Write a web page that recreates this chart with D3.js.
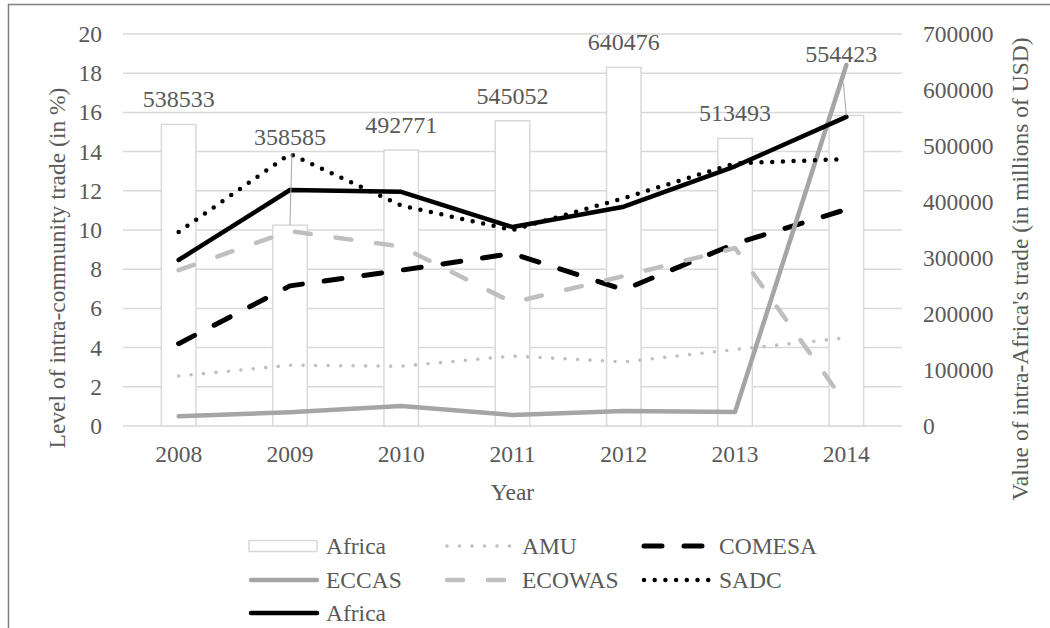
<!DOCTYPE html>
<html>
<head>
<meta charset="utf-8">
<script src="https://cdn.jsdelivr.net/npm/d3@7"></script>
<style>
  html, body { margin: 0; padding: 0; background: #fff; }
  svg { display: block; }
  text { font-family: "Liberation Serif", "Times New Roman", serif; fill: #595959; }
</style>
</head>
<body>
<svg id="chart" width="1050" height="628"></svg>
<script>
// Years on the category axis
const years = ["2008", "2009", "2010", "2011", "2012", "2013", "2014"];
// Value of intra-Africa's trade, millions of USD (bars, right axis)
const africaTrade = [538533, 358585, 492771, 545052, 640476, 513493, 554423];
// Level of intra-community trade, % (lines, left axis)
const amu = [2.55, 3.1, 3.05, 3.57, 3.27, 3.9, 4.5];
const comesa = [4.2, 7.15, 7.95, 8.8, 6.95, 9.3, 11.05];
const eccas = [0.5, 0.7, 1.02, 0.56, 0.77, 0.72, 18.42];
const ecowas = [7.95, 9.95, 9.15, 6.3, 7.65, 9.08, 1.1];
const sadc = [9.9, 13.88, 11.25, 10.0, 11.63, 13.4, 13.62];
const africaShare = [8.47, 12.04, 11.95, 10.15, 11.19, 13.25, 15.77];
// Tick labels
const leftTicks = [0, 2, 4, 6, 8, 10, 12, 14, 16, 18, 20];
const rightTicks = [0, 100000, 200000, 300000, 400000, 500000, 600000, 700000];

const svg = d3.select("#chart");
const plot = { left: 123, right: 902, top: 34, bottom: 426 };
const FS = 23.5;
const SERIF = '"Liberation Serif", "Times New Roman", serif';

const x = d3.scaleBand().domain(years).range([plot.left, plot.right]).paddingInner(0.69).paddingOuter(0.345);
const xc = d => x(d) + x.bandwidth() / 2;
const yL = d3.scaleLinear().domain([0, 20]).range([plot.bottom, plot.top]);
const yR = d3.scaleLinear().domain([0, 700000]).range([plot.bottom, plot.top]);

// outer frame (top and left edges)
svg.append("path")
  .attr("d", "M8.5,628 L8.5,4.5 L1050,4.5")
  .attr("fill", "none").attr("stroke", "#808080").attr("stroke-width", 1.5);

// horizontal gridlines
svg.append("g").selectAll("line").data(leftTicks).join("line")
  .attr("x1", plot.left).attr("x2", plot.right)
  .attr("y1", d => yL(d)).attr("y2", d => yL(d))
  .attr("stroke", "#d9d9d9").attr("stroke-width", 1.5);

function styleAxis(g) {
  g.attr("font-family", SERIF).attr("font-size", FS);
  g.select(".domain").remove();
  g.selectAll("text").attr("fill", "#595959").style("font-family", SERIF).style("font-size", FS + "px");
}

// left axis
svg.append("g").attr("transform", `translate(${plot.left - 21},0)`)
  .call(d3.axisLeft(yL).tickValues(leftTicks).tickSize(0).tickPadding(0))
  .call(styleAxis);

// right axis
svg.append("g").attr("transform", `translate(${plot.right + 21},0)`)
  .call(d3.axisRight(yR).tickValues(rightTicks).tickFormat(d3.format("d")).tickSize(0).tickPadding(0))
  .call(styleAxis);

// bottom axis
svg.append("g").attr("transform", `translate(0,${plot.bottom + 19})`)
  .call(d3.axisBottom(x).tickSize(0).tickPadding(0))
  .call(styleAxis);

// axis titles
svg.append("text").attr("transform", "translate(65,268) rotate(-90)")
  .attr("text-anchor", "middle").attr("font-size", FS)
  .text("Level of intra-community trade (in %)");
svg.append("text").attr("transform", "translate(1028,269) rotate(-90)")
  .attr("text-anchor", "middle").attr("font-size", FS)
  .text("Value of intra-Africa's trade (in millions of USD)");
svg.append("text").attr("x", (plot.left + plot.right) / 2).attr("y", 500)
  .attr("text-anchor", "middle").attr("font-size", FS).text("Year");

// bars
svg.append("g").selectAll("rect").data(years).join("rect")
  .attr("x", d => x(d)).attr("width", x.bandwidth())
  .attr("y", (d, i) => yR(africaTrade[i]))
  .attr("height", (d, i) => plot.bottom - yR(africaTrade[i]))
  .attr("fill", "#fff").attr("stroke", "#d9d9d9").attr("stroke-width", 1.5);

// series styles
const series = [
  { name: "AMU", values: amu, color: "#bfbfbf", width: 3.6, dash: "0,12.5", cap: "round" },
  { name: "COMESA", values: comesa, color: "#000", width: 5, dash: "18,22", cap: "round" },
  { name: "ECCAS", values: eccas, color: "#a5a5a5", width: 4.5, dash: null, cap: "round" },
  { name: "ECOWAS", values: ecowas, color: "#bfbfbf", width: 4.5, dash: "16,25", cap: "round" },
  { name: "SADC", values: sadc, color: "#000", width: 4.5, dash: "0,10.7", cap: "round" },
  { name: "Africa", values: africaShare, color: "#000", width: 4.5, dash: null, cap: "round" }
];

const line = d3.line().x((d, i) => xc(years[i])).y(d => yL(d));
svg.append("g").selectAll("path").data(series).join("path")
  .attr("d", s => line(s.values))
  .attr("fill", "none")
  .attr("stroke", s => s.color)
  .attr("stroke-width", s => s.width)
  .attr("stroke-dasharray", s => s.dash)
  .attr("stroke-linecap", s => s.cap)
  .attr("stroke-linejoin", "round");

// bar value labels; two of them sit away from their bar with a leader line
const moved = {
  "2009": { dx: 0, base: 145, from: 153 },
  "2014": { dx: -5, base: 62, from: 83 }
};
const lab = svg.append("g");
years.forEach((yr, i) => {
  const cx = xc(yr), top = yR(africaTrade[i]);
  const m = moved[yr];
  if (m) {
    lab.append("line")
      .attr("x1", cx + m.dx + 2).attr("y1", m.from)
      .attr("x2", cx).attr("y2", top)
      .attr("stroke", "#a6a6a6").attr("stroke-width", 1);
  }
  lab.append("text")
    .attr("x", m ? cx + m.dx : cx)
    .attr("y", m ? m.base : top - 17)
    .attr("text-anchor", "middle").attr("font-size", 24)
    .text(africaTrade[i]);
});

// legend
const legendItems = [
  { label: "Africa", type: "bar" },
  { label: "AMU", s: series[0] },
  { label: "COMESA", s: series[1] },
  { label: "ECCAS", s: series[2] },
  { label: "ECOWAS", s: series[3] },
  { label: "SADC", s: series[4] },
  { label: "Africa", s: series[5] }
];
const colX = [249, 445, 642];
const rowY = [546, 580, 613];
const lg = svg.append("g");
legendItems.forEach((it, k) => {
  const cx0 = colX[k % 3], cy = rowY[Math.floor(k / 3)];
  if (it.type === "bar") {
    lg.append("rect").attr("x", cx0).attr("y", cy - 5.5).attr("width", 68).attr("height", 11)
      .attr("fill", "#fff").attr("stroke", "#d9d9d9").attr("stroke-width", 1.5);
  } else {
    const s = it.s;
    lg.append("line")
      .attr("x1", cx0 + 2).attr("x2", cx0 + 68).attr("y1", cy).attr("y2", cy)
      .attr("stroke", s.color).attr("stroke-width", s.width)
      .attr("stroke-dasharray", s.dash).attr("stroke-linecap", s.cap);
  }
  lg.append("text").attr("x", cx0 + 77).attr("y", cy + 8)
    .attr("font-size", FS).text(it.label);
});
</script>
</body>
</html>
